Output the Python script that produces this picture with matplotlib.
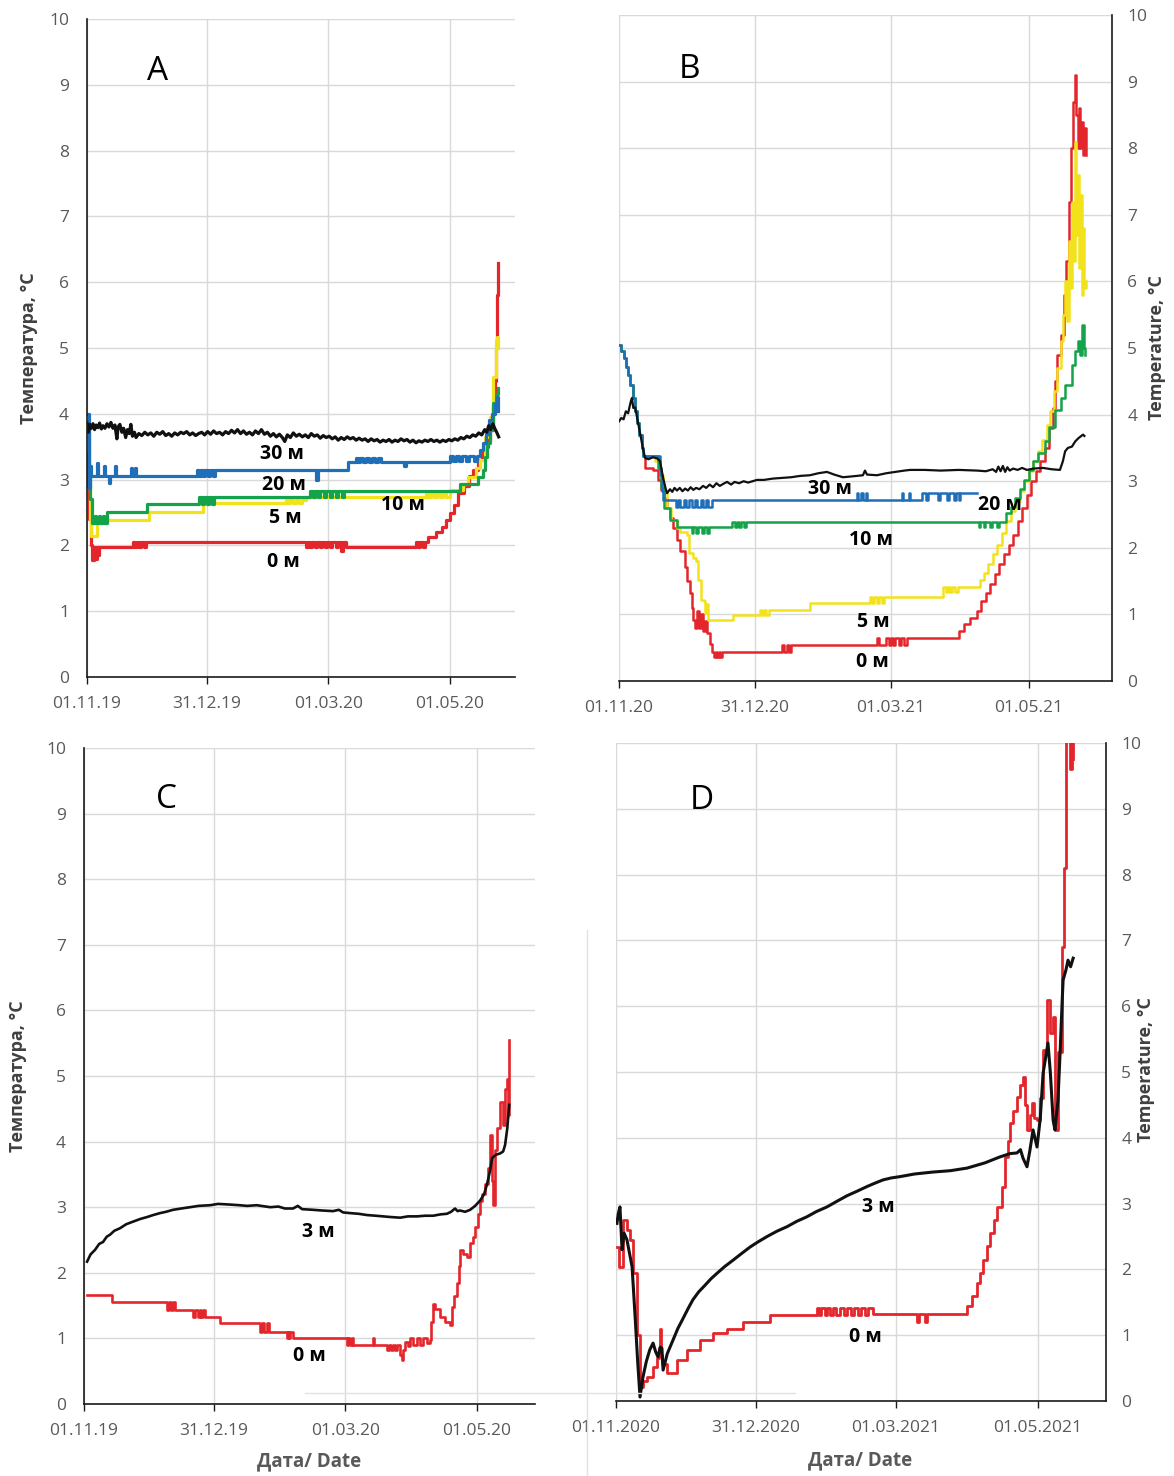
import matplotlib
matplotlib.use("Agg")
import matplotlib.pyplot as plt
import matplotlib.dates as mdates
from matplotlib.lines import Line2D
import pandas as pd

plt.rcParams['font.family'] = ['Open Sans', 'DejaVu Sans']

RED = '#e3262b'
YELLOW = '#f2e21c'
GREEN = '#14a24a'
BLUE = '#1f6fb8'
BLACK = '#111111'
GRID = '#d9d9d9'
TXT = '#595959'

# ---------------- data: (days since start, temperature °C) ----------------
start_1920 = '2019-11-01'
start_2021 = '2020-11-01'

ticks_1920 = ['2019-11-01', '2019-12-31', '2020-03-01', '2020-05-01']
ticks_2021 = ['2020-11-01', '2020-12-31', '2021-03-01', '2021-05-01']

# panel A, 30 m
a_black = [(0, 3.86), (0.7, 3.72), (1.4, 3.84), (2.2, 3.78), (3, 3.85), (3.8, 3.76), (4.6, 3.83),
           (5.5, 3.79), (6.3, 3.86), (7.2, 3.77), (8, 3.82), (9, 3.78), (10, 3.85), (11, 3.8),
           (12, 3.87), (13, 3.78), (14, 3.83), (15, 3.62), (15.6, 3.80), (16.5, 3.84), (17.5, 3.72),
           (18.4, 3.78), (19.4, 3.64), (20.3, 3.76), (21.2, 3.70), (22, 3.84), (22.8, 3.66),
           (23.8, 3.72), (24.6, 3.64), (26, 3.70), (27.5, 3.67), (29, 3.72), (30.5, 3.68), (32, 3.71),
           (33.5, 3.66), (35, 3.72), (36.5, 3.69), (38, 3.73), (39.5, 3.67), (41, 3.70), (42.5, 3.66),
           (44, 3.71), (45.5, 3.68), (47, 3.72), (48.5, 3.70), (50, 3.73), (51.5, 3.68), (53, 3.71),
           (54.5, 3.67), (56, 3.70), (57.5, 3.72), (59, 3.68), (60.5, 3.73), (62, 3.69), (63.5, 3.74),
           (65, 3.70), (66.5, 3.72), (68, 3.68), (69.5, 3.73), (71, 3.70), (72.5, 3.75), (74, 3.71),
           (75.5, 3.76), (77, 3.70), (78.5, 3.74), (80, 3.69), (81.5, 3.72), (83, 3.68), (84.5, 3.74),
           (86, 3.70), (87.5, 3.76), (89, 3.69), (90.5, 3.72), (92, 3.66), (93.5, 3.70), (95, 3.65),
           (96.5, 3.69), (98, 3.64), (99.2, 3.58), (100.5, 3.68), (102, 3.64), (103.5, 3.71),
           (105, 3.66), (106.5, 3.69), (108, 3.65), (109.5, 3.68), (111, 3.64), (112.5, 3.70),
           (114, 3.66), (115.5, 3.68), (117, 3.63), (118.5, 3.67), (120, 3.64), (121.5, 3.66),
           (123, 3.62), (124.5, 3.65), (126, 3.60), (127.5, 3.64), (129, 3.61), (130.5, 3.65),
           (132, 3.62), (133.5, 3.64), (135, 3.60), (136.5, 3.63), (138, 3.60), (139.5, 3.62),
           (141, 3.58), (142.5, 3.62), (144, 3.59), (145.5, 3.61), (147, 3.57), (148.5, 3.60),
           (150, 3.58), (151.5, 3.61), (153, 3.57), (154.5, 3.60), (156, 3.58), (157.5, 3.62),
           (159, 3.59), (160.5, 3.61), (162, 3.57), (163.5, 3.60), (165, 3.56), (166.5, 3.59),
           (168, 3.57), (169.5, 3.60), (171, 3.58), (172.5, 3.61), (174, 3.58), (175.5, 3.60),
           (177, 3.57), (178.5, 3.60), (180, 3.58), (181.5, 3.61), (183, 3.59), (184.5, 3.62),
           (186, 3.60), (187.5, 3.64), (189, 3.62), (190.5, 3.66), (192, 3.64), (193.5, 3.68),
           (195, 3.66), (196.5, 3.71), (198, 3.68), (199.5, 3.76), (200.5, 3.72), (201.5, 3.82),
           (202.5, 3.76), (203.5, 3.85), (204.5, 3.78), (205.5, 3.72), (206.5, 3.65)]
# panel A, 20 m
a_blue = [(0, 4.0), (0.8, 2.88), (1.3, 3.2), (1.8, 3.05), (5, 3.25), (5.6, 3.05), (8.5, 3.2),
          (9.1, 3.05), (11, 2.95), (11.6, 3.05), (14, 3.2), (14.6, 3.05), (22, 3.18), (22.6, 3.05),
          (24, 3.18), (24.6, 3.05), (55, 3.14), (56, 3.05), (57, 3.14), (58, 3.05), (59, 3.14),
          (60.5, 3.05), (61.5, 3.14), (63, 3.05), (64, 3.14), (115, 3.0), (115.8, 3.14), (131, 3.27),
          (135, 3.33), (136, 3.27), (137, 3.33), (138.5, 3.27), (140, 3.33), (141.5, 3.27),
          (143, 3.33), (144.5, 3.27), (146, 3.33), (147.5, 3.27), (159, 3.2), (159.8, 3.27),
          (182, 3.36), (183.5, 3.29), (185, 3.36), (186.5, 3.29), (188, 3.36), (190, 3.29),
          (191.5, 3.36), (194, 3.29), (195.5, 3.36), (197, 3.45), (198.5, 3.55), (200, 3.7),
          (201.5, 3.9), (203, 4.0), (204.5, 4.15), (205.5, 4.25), (206.2, 4.05)]
# panel A, 10 m
a_green = [(0, 3.8), (0.8, 3.2), (1.5, 2.7), (2.5, 2.34), (4, 2.45), (4.6, 2.34), (6, 2.45),
           (6.6, 2.34), (8, 2.45), (8.6, 2.34), (10, 2.51), (30, 2.63), (56, 2.73), (57.5, 2.63),
           (58.5, 2.73), (60, 2.63), (61, 2.73), (62.5, 2.63), (63.5, 2.73), (112, 2.83),
           (113.5, 2.73), (114.5, 2.83), (116, 2.73), (117, 2.83), (119, 2.73), (120, 2.83),
           (122, 2.73), (123, 2.83), (125, 2.73), (126, 2.83), (128, 2.73), (129, 2.83), (187, 2.94),
           (196, 3.04), (198.6, 3.15), (199.8, 3.35), (200.6, 3.55), (202.1, 3.75), (203.6, 4.16),
           (205, 4.3), (206.1, 4.4)]
# panel A, 5 m
a_yellow = [(0, 3.5), (0.8, 2.9), (1.6, 2.4), (2.2, 2.15), (5, 2.39), (31, 2.51), (58, 2.64),
            (100, 2.69), (101, 2.64), (102, 2.69), (103.5, 2.64), (105, 2.69), (106.5, 2.64),
            (108, 2.69), (110, 2.74), (170, 2.8), (171, 2.74), (172.5, 2.8), (174, 2.74),
            (175.5, 2.8), (177, 2.74), (178.5, 2.8), (180, 2.74), (182, 2.84), (188.5, 2.94),
            (191, 3.04), (195, 3.17), (197, 3.3), (199.6, 3.65), (202, 3.95), (203.6, 4.56),
            (205, 5.12), (205.6, 5.17), (206.1, 5.0)]
# panel A, 0 m
a_red = [(0, 3.4), (0.6, 2.9), (1.2, 2.4), (1.8, 2.0), (2.5, 1.78), (3.5, 1.98), (4.2, 1.8),
         (5, 1.98), (5.6, 1.85), (6.2, 1.98), (23, 2.05), (24, 1.98), (25, 2.05), (26, 1.98),
         (27, 2.05), (28.5, 1.98), (29.5, 2.05), (110, 1.98), (111, 2.05), (112, 1.98), (113, 2.05),
         (114.5, 1.98), (115.5, 2.05), (117, 1.98), (118, 2.05), (119.5, 1.98), (120.5, 2.05),
         (122, 1.98), (123, 2.05), (125, 1.98), (126, 2.05), (127.5, 1.92), (128.3, 2.05),
         (130, 1.98), (165, 2.05), (166, 1.98), (167, 2.05), (168.5, 1.98), (169.5, 2.05),
         (171, 2.13), (175, 2.21), (178, 2.28), (180, 2.38), (182, 2.49), (184, 2.62), (186, 2.79),
         (189, 2.9), (191.5, 3.05), (193.6, 3.15), (196, 3.3), (198, 3.4), (199.6, 3.5), (201, 3.6),
         (202, 3.75), (203.5, 4.1), (204.6, 4.5), (205.2, 5.0), (205.6, 5.27), (205.9, 5.8),
         (206.1, 6.29)]

# panel B
b_black = [(0, 3.9), (1, 3.95), (2, 3.93), (3, 4.05), (4, 4.02), (5.2, 4.2), (5.7, 4.25), (6.3, 4.1),
           (7.1, 4.11), (8, 3.95), (9.3, 3.72), (10.5, 3.5), (11.5, 3.35), (13, 3.33), (15, 3.36),
           (17, 3.34), (18.1, 3.3), (19.4, 3.06), (20.5, 2.9), (21.2, 2.82), (22.5, 2.88),
           (23.5, 2.84), (24.5, 2.9), (25.6, 2.86), (26.8, 2.9), (28, 2.85), (29.2, 2.89),
           (30.4, 2.86), (31.6, 2.91), (32.8, 2.87), (34, 2.9), (35.5, 2.88), (37.1, 2.93),
           (38.5, 2.9), (40, 2.95), (41.5, 2.91), (43, 2.97), (44.5, 2.93), (46, 2.96), (47.7, 2.99),
           (49.5, 2.95), (51, 2.99), (53, 2.97), (55, 3.0), (57, 2.98), (60.9, 3.02), (64, 3.02),
           (68, 3.04), (72, 3.05), (76, 3.06), (80, 3.08), (84.3, 3.09), (88, 3.12), (91.8, 3.14),
           (95, 3.1), (98.9, 3.06), (102, 3.07), (105, 3.08), (107.7, 3.09), (108.6, 3.16),
           (109.5, 3.1), (113.9, 3.09), (118, 3.12), (122, 3.14), (126, 3.16), (128.5, 3.17),
           (135, 3.17), (142, 3.16), (150, 3.17), (158.1, 3.16), (162, 3.15), (165, 3.18),
           (166.5, 3.14), (167.5, 3.22), (168.5, 3.15), (169.5, 3.23), (170.5, 3.14), (171.5, 3.21),
           (172.5, 3.16), (174, 3.19), (176, 3.17), (178, 3.2), (180.1, 3.17), (183, 3.19),
           (187.2, 3.2), (191, 3.18), (194.7, 3.17), (196, 3.3), (197, 3.45), (198.2, 3.5),
           (200, 3.52), (201.5, 3.6), (203, 3.65), (204.9, 3.7), (205.5, 3.68)]
b_blue = [(0, 5.05), (1, 4.95), (2, 4.85), (3, 4.72), (4, 4.6), (5, 4.45), (6, 4.25), (7, 4.05),
          (8, 3.88), (9, 3.7), (10, 3.5), (10.5, 3.38), (18, 3.1), (18.8, 2.85), (19.5, 2.72),
          (25, 2.62), (26, 2.72), (27, 2.62), (28.5, 2.72), (29.5, 2.62), (31, 2.72), (32, 2.62),
          (33.5, 2.72), (34.5, 2.62), (36, 2.72), (37, 2.62), (38.5, 2.72), (39.5, 2.62), (41, 2.72),
          (105, 2.82), (105.6, 2.72), (107, 2.82), (107.6, 2.72), (109, 2.82), (109.6, 2.72),
          (125, 2.82), (125.6, 2.72), (128, 2.82), (128.6, 2.72), (134, 2.82), (135.5, 2.72),
          (136.5, 2.82), (141, 2.72), (141.7, 2.82), (145, 2.72), (145.7, 2.82), (148, 2.72),
          (148.6, 2.82), (150, 2.72), (150.6, 2.82), (158.2, 2.82)]
b_green = [(0, 5.05), (1, 4.95), (2, 4.85), (3, 4.72), (4, 4.6), (5, 4.45), (6, 4.25), (7, 4.05),
           (8, 3.88), (9, 3.7), (10, 3.5), (10.5, 3.38), (17, 3.2), (18.5, 2.9), (20, 2.6),
           (22.5, 2.42), (25.6, 2.32), (32, 2.22), (32.6, 2.32), (34, 2.22), (35, 2.32), (36.5, 2.22),
           (37.3, 2.32), (39, 2.22), (39.6, 2.32), (50, 2.39), (51, 2.32), (52, 2.39), (53, 2.32),
           (54, 2.39), (55, 2.32), (56, 2.39), (159, 2.32), (159.6, 2.39), (161, 2.32), (161.6, 2.39),
           (164, 2.32), (164.6, 2.39), (167, 2.32), (167.6, 2.39), (171, 2.52), (173, 2.62),
           (175, 2.75), (177, 2.88), (179, 3.02), (181, 3.17), (183, 3.3), (185, 3.42), (188, 3.6),
           (190, 3.82), (192.5, 4.07), (195, 4.25), (197, 4.45), (200, 4.75), (201.5, 4.95),
           (202.6, 5.1), (203.5, 4.9), (204.4, 5.35), (205.2, 5.0), (205.7, 4.9)]
b_yellow = [(0, 5.05), (1, 4.95), (2, 4.85), (3, 4.72), (4, 4.6), (5, 4.45), (6, 4.25), (7, 4.05),
            (8, 3.88), (9, 3.7), (10, 3.5), (10.5, 3.38), (16, 3.3), (18, 3.1), (19.5, 2.85),
            (21, 2.6), (23, 2.42), (25.6, 2.3), (27, 2.24), (30, 2.2), (31, 1.92), (32.5, 1.85),
            (34, 1.8), (35, 1.52), (36, 1.22), (37.5, 1.2), (38, 1.02), (38.7, 1.15), (39.2, 0.92),
            (50.5, 0.99), (62.3, 1.07), (63.2, 0.99), (64, 1.07), (65, 0.99), (66, 1.07),
            (84.3, 1.17), (110.8, 1.26), (111.8, 1.17), (112.8, 1.26), (113.8, 1.17), (114.8, 1.26),
            (116, 1.17), (117, 1.26), (143.2, 1.41), (144.2, 1.34), (145.2, 1.41), (146.2, 1.34),
            (147.2, 1.41), (148.5, 1.34), (149.5, 1.41), (159.4, 1.52), (161, 1.62), (163, 1.75),
            (165, 1.9), (167, 2.05), (169, 2.22), (171, 2.4), (173, 2.55), (175, 2.7), (177, 2.85),
            (179, 3.0), (181, 3.15), (183, 3.3), (185, 3.45), (187, 3.62), (189, 3.85),
            (190.5, 4.05), (192, 4.35), (193.5, 4.7), (195, 5.1), (196, 5.5), (197, 6.0),
            (197.8, 5.4), (198.5, 6.6), (199.3, 5.9), (200, 7.2), (200.6, 6.3), (201.3, 8.1),
            (201.9, 6.7), (202.5, 7.6), (203.1, 6.2), (203.7, 7.3), (204.3, 5.8), (204.9, 6.8),
            (205.5, 5.9), (206.1, 6.0)]
b_red = [(0, 5.05), (1, 4.95), (2, 4.85), (3, 4.72), (4, 4.6), (5, 4.45), (6, 4.25), (7, 4.05),
         (8, 3.88), (9, 3.7), (10, 3.5), (10.5, 3.38), (11.5, 3.2), (15, 3.17), (17, 3.02),
         (18.5, 2.87), (20, 2.75), (21.2, 2.6), (22.5, 2.45), (24, 2.3), (25.6, 2.12), (27, 1.95),
         (29, 1.71), (30.2, 1.5), (31.3, 1.32), (32, 1.1), (32.6, 0.92), (33.6, 0.8), (34.5, 1.05),
         (35.2, 0.8), (36, 1.0), (37, 0.75), (38, 0.9), (39, 0.72), (40, 0.55), (41, 0.44),
         (42, 0.36), (42.7, 0.44), (43.3, 0.36), (44, 0.44), (44.7, 0.36), (45.3, 0.44), (72, 0.54),
         (73, 0.44), (74, 0.54), (75, 0.44), (76, 0.54), (114, 0.64), (114.6, 0.54), (118, 0.64),
         (119, 0.54), (120, 0.64), (121, 0.54), (122, 0.64), (123.5, 0.54), (124.5, 0.64),
         (126, 0.54), (127, 0.64), (150, 0.75), (152.5, 0.85), (155, 0.95), (158, 1.05), (160, 1.2),
         (162, 1.32), (164, 1.45), (166, 1.6), (168, 1.75), (170, 1.9), (172, 2.05), (174, 2.2),
         (176, 2.4), (178, 2.6), (180, 2.8), (182, 3.0), (184, 3.15), (186, 3.3), (188, 3.5),
         (190, 3.8), (191.5, 4.1), (192.5, 4.5), (193.5, 4.9), (195, 5.2), (196.5, 5.8),
         (197.5, 6.3), (198.5, 7.2), (199.5, 8.0), (200.5, 8.7), (201.3, 9.1), (201.9, 8.5),
         (202.5, 8.0), (203, 8.6), (203.6, 8.0), (204.2, 8.4), (204.8, 7.9), (205.4, 8.3),
         (206.2, 7.9)]

# panel C
c_black = [(1.4, 2.17), (3, 2.28), (5.1, 2.35), (7, 2.44), (8.8, 2.47), (10.5, 2.55), (12, 2.58),
           (14, 2.64), (16.7, 2.68), (19.5, 2.74), (22.7, 2.78), (26, 2.82), (29.2, 2.85), (32, 2.88),
           (35.2, 2.91), (38, 2.93), (41.2, 2.96), (45, 2.98), (49.1, 3.0), (53, 3.02), (58.4, 3.03),
           (62, 3.05), (67.6, 3.04), (72, 3.03), (75.5, 3.02), (80, 3.03), (86.2, 3.0), (90, 3.01),
           (93, 2.98), (96.8, 2.98), (99, 3.02), (101, 2.97), (106.1, 2.96), (110, 2.95),
           (115.3, 2.94), (118, 2.96), (120, 2.92), (123.2, 2.91), (127, 2.9), (131.1, 2.88),
           (135, 2.87), (138.5, 2.86), (142, 2.85), (146.4, 2.84), (150, 2.86), (154.2, 2.86),
           (158, 2.87), (161.7, 2.87), (165, 2.89), (168.1, 2.9), (170, 2.93), (171.8, 2.98),
           (173, 2.94), (174.1, 2.95), (176.5, 2.93), (178.8, 2.96), (181.1, 3.02), (183.4, 3.1),
           (185.3, 3.2), (186.7, 3.36), (188, 3.55), (189, 3.75), (190.8, 3.8), (192.7, 3.82),
           (194.1, 3.85), (195, 3.95), (196, 4.2), (196.9, 4.56)]
c_red = [(1.2, 1.66), (12.8, 1.56), (38.3, 1.43), (39.3, 1.56), (40.3, 1.43), (41.3, 1.56),
         (42.3, 1.43), (50.6, 1.33), (51.6, 1.43), (52.6, 1.33), (53.6, 1.43), (54.3, 1.33),
         (55.2, 1.43), (55.8, 1.33), (62.9, 1.23), (81.5, 1.10), (82.5, 1.23), (83.5, 1.10),
         (84.5, 1.23), (85.5, 1.10), (93.8, 1.0), (94.3, 1.10), (95, 1.0), (95.6, 1.10), (96.9, 1.0),
         (121.6, 0.9), (122.4, 1.0), (123.2, 0.9), (124, 1.0), (124.7, 0.9), (133.9, 1.0),
         (134.5, 0.9), (140.1, 0.82), (141, 0.9), (142, 0.82), (143, 0.9), (144, 0.82), (145, 0.9),
         (146.5, 0.75), (147.1, 0.67), (147.7, 0.82), (148.6, 0.95), (150, 0.88), (151, 1.0),
         (152.5, 0.9), (154, 1.0), (155.5, 0.9), (157, 1.0), (158.6, 0.93), (160.2, 0.98),
         (160.8, 1.25), (161.6, 1.53), (162.5, 1.45), (164.9, 1.33), (167, 1.25), (169.5, 1.2),
         (170.5, 1.48), (171.5, 1.65), (172.8, 1.84), (173.5, 2.1), (174.2, 2.35), (175.5, 2.28),
         (177.4, 2.24), (178.8, 2.45), (180, 2.55), (181.1, 2.7), (182.5, 2.9), (183.4, 3.1),
         (184.5, 3.2), (185.7, 3.36), (187.1, 3.6), (188, 4.1), (189, 3.4), (189.4, 3.03),
         (190.4, 3.87), (191.3, 4.2), (192.7, 4.6), (194.1, 4.25), (195, 4.8), (196, 4.95),
         (196.4, 4.4), (196.9, 5.55)]

# panel D
d_black = [(0.4, 2.7), (1.0, 2.85), (1.7, 2.95), (2.6, 2.3), (3.5, 2.55), (4.7, 2.45), (5.5, 2.3),
           (6.9, 2.04), (8.2, 1.28), (9.3, 0.6), (10.3, 0.06), (11.6, 0.37), (13, 0.6), (14.5, 0.78),
           (15.9, 0.88), (17, 0.75), (18, 0.67), (19, 0.82), (19.7, 0.8), (20.2, 0.47), (22, 0.72),
           (24.5, 0.93), (26.5, 1.1), (28.7, 1.25), (31, 1.41), (33, 1.54), (35.5, 1.66),
           (38.2, 1.76), (40.8, 1.86), (43.3, 1.94), (46.5, 2.04), (50.2, 2.14), (53.8, 2.24),
           (57.5, 2.34), (61, 2.42), (64.8, 2.5), (69, 2.58), (73.4, 2.65), (77.5, 2.73),
           (81.9, 2.8), (86, 2.88), (90.5, 2.95), (95, 3.04), (99.1, 3.12), (103.5, 3.19),
           (107.7, 3.26), (111, 3.31), (114.5, 3.36), (118, 3.39), (121.8, 3.41), (128, 3.45),
           (136, 3.48), (143.3, 3.5), (150.6, 3.54), (158.3, 3.62), (164.7, 3.71), (169, 3.76),
           (172, 3.77), (173.5, 3.82), (174.6, 3.69), (176.3, 3.56), (177.5, 3.8), (178.9, 4.12),
           (180.6, 3.86), (182, 4.3), (183.2, 4.98), (184.2, 5.2), (185.3, 5.44), (186.3, 5.0),
           (187.5, 4.27), (188.3, 4.12), (189.6, 4.57), (190.5, 5.3), (191.4, 6.09), (191.8, 6.4),
           (193, 6.55), (193.9, 6.7), (195, 6.6), (196.1, 6.73)]
d_red = [(0.4, 2.34), (1.2, 2.04), (2.9, 2.75), (4.7, 2.6), (6, 2.45), (7.3, 1.94), (9, 1.0),
         (10.3, 0.21), (11.5, 0.3), (13.3, 0.37), (15.9, 0.52), (17.5, 0.65), (18.5, 0.8),
         (19, 1.1), (19.5, 0.7), (19.8, 0.57), (21.7, 0.42), (26, 0.62), (30.3, 0.78), (36, 0.93),
         (41.7, 1.03), (47.5, 1.1), (54.6, 1.2), (66.1, 1.31), (86.1, 1.41), (87, 1.31), (88, 1.41),
         (89.5, 1.31), (90.5, 1.41), (92, 1.31), (93, 1.41), (94.5, 1.31), (96, 1.41), (98, 1.31),
         (99, 1.41), (101, 1.31), (102, 1.41), (104, 1.31), (105, 1.41), (107, 1.31), (108, 1.41),
         (110.4, 1.33), (129, 1.2), (130, 1.33), (132.5, 1.2), (133.5, 1.33), (150.6, 1.45),
         (152.5, 1.6), (154.9, 1.79), (156.2, 1.95), (157.4, 2.14), (159, 2.35), (160.4, 2.55),
         (162, 2.75), (163.4, 2.95), (165.6, 3.26), (166.9, 3.71), (168, 3.95), (169, 4.22),
         (170.5, 4.4), (172, 4.62), (173.3, 4.8), (174.6, 4.93), (175.5, 4.5), (176.3, 4.12),
         (177.5, 4.35), (178.5, 4.53), (179.5, 4.3), (180.6, 4.27), (181.9, 4.6), (183.2, 5.34),
         (184.9, 6.1), (186.2, 5.6), (187.5, 5.84), (188.3, 4.12), (189.6, 5.3), (191.4, 6.9),
         (192.3, 8.1), (193.1, 10.4), (194, 10.2), (194.8, 9.6), (195.4, 10.0), (196.1, 9.75)]

# x-axis end (days since start)
xmax_days = {'A': 214.7, 'B': 217.7, 'C': 208.9, 'D': 210.2}


def to_xy(start, pts):
    d, t = zip(*pts)
    return pd.Timestamp(start) + pd.to_timedelta(list(d), unit='D'), list(t)


def setup(ax, start, xmax, ticks, fmt, side):
    t0 = pd.Timestamp(start)
    ax.set_xlim(t0, t0 + pd.Timedelta(days=xmax))
    ax.set_ylim(0, 10)
    ax.set_yticks(range(0, 11))
    ax.set_xticks([pd.Timestamp(t).to_pydatetime() for t in ticks])
    ax.xaxis.set_major_formatter(mdates.DateFormatter(fmt))
    ax.grid(True, color=GRID, lw=1.0)
    ax.set_axisbelow(True)
    for s in ax.spines.values():
        s.set_visible(False)
    for s in ('bottom', side):
        ax.spines[s].set_visible(True)
        ax.spines[s].set_color('#1a1a1a')
        ax.spines[s].set_linewidth(1.2)
    if side == 'right':
        ax.yaxis.tick_right()
        ypad = 11
    else:
        ypad = 13
    ax.tick_params(axis='y', length=0, pad=ypad, labelsize=12.5, labelcolor=TXT)
    ax.tick_params(axis='x', direction='out', length=5, width=1, color='#1a1a1a',
                   pad=9, labelsize=12.5, labelcolor=TXT)


fig = plt.figure(figsize=(11.74, 14.76), dpi=100)
axA = fig.add_axes([0.0741, 0.5413, 0.3646, 0.4458])
axB = fig.add_axes([0.5273, 0.5386, 0.4199, 0.4512])
axC = fig.add_axes([0.0716, 0.0488, 0.3842, 0.4444])
axD = fig.add_axes([0.5247, 0.0508, 0.4174, 0.4458])

setup(axA, start_1920, xmax_days['A'], ticks_1920, '%d.%m.%y', 'left')
setup(axB, start_2021, xmax_days['B'], ticks_2021, '%d.%m.%y', 'right')
setup(axC, start_1920, xmax_days['C'], ticks_1920, '%d.%m.%y', 'left')
setup(axD, start_2021, xmax_days['D'], ticks_2021, '%d.%m.%Y', 'right')

# panel A
for pts, col in ((a_red, RED), (a_yellow, YELLOW), (a_green, GREEN), (a_blue, BLUE)):
    axA.plot(*to_xy(start_1920, pts), color=col, lw=2.3, drawstyle='steps-post')
axA.plot(*to_xy(start_1920, a_black), color=BLACK, lw=2.3)

# panel B
for pts, col in ((b_red, RED), (b_yellow, YELLOW), (b_green, GREEN), (b_blue, BLUE)):
    axB.plot(*to_xy(start_2021, pts), color=col, lw=1.8, drawstyle='steps-post')
axB.plot(*to_xy(start_2021, b_black), color=BLACK, lw=1.6)

# panel C
axC.plot(*to_xy(start_1920, c_red), color=RED, lw=1.9, drawstyle='steps-post')
axC.plot(*to_xy(start_1920, c_black), color=BLACK, lw=1.9)

# panel D
axD.plot(*to_xy(start_2021, d_red), color=RED, lw=2.0, drawstyle='steps-post')
axD.plot(*to_xy(start_2021, d_black), color=BLACK, lw=2.2)

# depth labels and panel letters (axes fraction)
lab = dict(ha='center', va='center', fontsize=14, fontweight='bold', color='black')
for ax, items in ((axA, [('30 м', 0.456, 0.339), ('20 м', 0.460, 0.292), ('5 м', 0.463, 0.242),
                         ('10 м', 0.738, 0.261), ('0 м', 0.458, 0.175)]),
                  (axB, [('30 м', 0.428, 0.288), ('20 м', 0.773, 0.264), ('10 м', 0.511, 0.212),
                         ('5 м', 0.515, 0.089), ('0 м', 0.513, 0.029)]),
                  (axC, [('3 м', 0.519, 0.262), ('0 м', 0.499, 0.073)]),
                  (axD, [('3 м', 0.535, 0.295), ('0 м', 0.508, 0.097)])):
    for s, fx, fy in items:
        ax.text(fx, fy, s, transform=ax.transAxes, **lab)

for ax, s, fx, fy in ((axA, 'A', 0.166, 0.921), (axB, 'B', 0.142, 0.918),
                      (axC, 'C', 0.182, 0.922), (axD, 'D', 0.176, 0.913)):
    ax.text(fx, fy, s, transform=ax.transAxes, ha='center', va='center', fontsize=24)

ylab = dict(rotation=90, ha='center', va='center', fontsize=13, fontweight='bold', color='#404040')
axA.text(-0.136, 0.5, 'Температура, °C', transform=axA.transAxes, **ylab)
axB.text(1.091, 0.5, 'Temperature, °C', transform=axB.transAxes, **ylab)
axC.text(-0.146, 0.5, 'Температура, °C', transform=axC.transAxes, **ylab)
axD.text(1.082, 0.503, 'Temperature, °C', transform=axD.transAxes, **ylab)

xlab = dict(ha='center', va='center', fontsize=13.5, fontweight='bold', color=TXT)
axC.text(0.499, -0.088, 'Дата/ Date', transform=axC.transAxes, **xlab)
axD.text(0.498, -0.090, 'Дата/ Date', transform=axD.transAxes, **xlab)

# faint guide lines left over in the composite picture
fig.add_artist(Line2D([305 / 1174, 795 / 1174], [1 - 1393 / 1476] * 2, color='#e2e2e2', lw=1))
fig.add_artist(Line2D([587 / 1174] * 2, [1 - 930 / 1476, 0], color='#e2e2e2', lw=1))

fig.savefig('out.png', dpi=100)
